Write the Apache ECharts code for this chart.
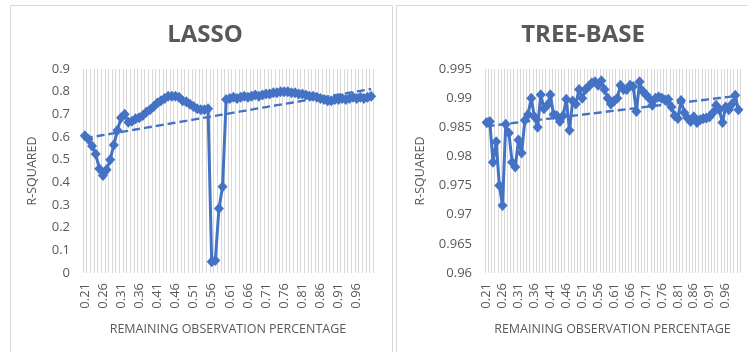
<!DOCTYPE html>
<html>
<head>
<meta charset="utf-8">
<script src="https://cdn.jsdelivr.net/npm/echarts@6/dist/echarts.min.js"></script>
<style>
  html, body { margin: 0; padding: 0; background: #fff; }
  #chart { width: 748px; height: 352px; }
</style>
</head>
<body>
<div id="chart"></div>
<script>
// Remaining observation share, 0.21 … 1.00
const categories = [];
for (let k = 21; k <= 100; k++) categories.push((k / 100).toFixed(2));

// R-squared of the LASSO model at each share
const lassoR2 = [
  0.605, 0.590, 0.560, 0.525, 0.460, 0.430, 0.455, 0.500, 0.565, 0.630,
  0.685, 0.700, 0.665, 0.670, 0.680, 0.685, 0.695, 0.710, 0.720, 0.735,
  0.750, 0.760, 0.770, 0.780, 0.780, 0.780, 0.775, 0.760, 0.755, 0.745,
  0.735, 0.725, 0.720, 0.720, 0.725, 0.050, 0.055, 0.285, 0.380, 0.765,
  0.770, 0.775, 0.770, 0.775, 0.780, 0.775, 0.780, 0.785, 0.780, 0.785,
  0.790, 0.790, 0.795, 0.795, 0.800, 0.800, 0.800, 0.795, 0.795, 0.790,
  0.790, 0.785, 0.780, 0.780, 0.775, 0.770, 0.765, 0.760, 0.760, 0.765,
  0.765, 0.770, 0.765, 0.770, 0.775, 0.770, 0.775, 0.770, 0.775, 0.780
];

// R-squared of the tree-based model at each share
const treeR2 = [
  0.9858, 0.9860, 0.9790, 0.9825, 0.9750, 0.9716, 0.9855, 0.9840, 0.9790, 0.9782,
  0.9828, 0.9806, 0.9862, 0.9872, 0.9900, 0.9868, 0.9850, 0.9906, 0.9882, 0.9888,
  0.9906, 0.9872, 0.9870, 0.9860, 0.9870, 0.9898, 0.9845, 0.9895, 0.9890, 0.9915,
  0.9900, 0.9915, 0.9920, 0.9926, 0.9928, 0.9922, 0.9930, 0.9915, 0.9900, 0.9890,
  0.9895, 0.9900, 0.9922, 0.9915, 0.9915, 0.9922, 0.9920, 0.9877, 0.9928, 0.9912,
  0.9906, 0.9900, 0.9888, 0.9900, 0.9902, 0.9900, 0.9897, 0.9898, 0.9885, 0.9870,
  0.9865, 0.9896, 0.9875, 0.9866, 0.9860, 0.9868, 0.9858, 0.9863, 0.9865, 0.9866,
  0.9868, 0.9875, 0.9888, 0.9880, 0.9858, 0.9885, 0.9880, 0.9890, 0.9905, 0.9880
];

// Y-axis ranges and steps
const lassoAxis = { min: 0, max: 0.9, step: 0.1 };
const treeAxis = { min: 0.96, max: 0.995, step: 0.005 };

const titles = ['LASSO', 'TREE-BASE'];
const xAxisTitle = 'REMAINING OBSERVATION PERCENTAGE';
const yAxisTitle = 'R-SQUARED';

// Ordinary least-squares fit over the category index
function linearTrend(values) {
  const n = values.length;
  let sx = 0, sy = 0, sxx = 0, sxy = 0;
  values.forEach((y, i) => { sx += i; sy += y; sxx += i * i; sxy += i * y; });
  const slope = (n * sxy - sx * sy) / (n * sxx - sx * sx);
  const icpt = (sy - slope * sx) / n;
  return values.map((_, i) => icpt + slope * i);
}

const BLUE = '#4472C4';
const TEXT = '#595959';
const FONT = '"Open Sans", sans-serif';

function xAxisFor(gridIndex) {
  return {
    type: 'category', gridIndex, data: categories, boundaryGap: true,
    axisLine: { show: false }, axisTick: { show: false },
    axisLabel: { interval: 4, rotate: 90, color: TEXT, fontFamily: FONT, fontSize: 13, margin: 10 },
    splitLine: { show: true, interval: 0, lineStyle: { color: '#d9d9d9', width: 1 } },
    name: xAxisTitle, nameLocation: 'middle', nameGap: 50,
    nameTextStyle: { color: TEXT, fontFamily: FONT, fontSize: 12.5 }
  };
}

function yAxisFor(gridIndex, ax, decimals, gap) {
  return {
    type: 'value', gridIndex, min: ax.min, max: ax.max, interval: ax.step,
    axisLine: { show: false }, axisTick: { show: false }, splitLine: { show: false },
    axisLabel: { color: TEXT, fontFamily: FONT, fontSize: 13, margin: 13,
      formatter: v => String(parseFloat(v.toFixed(decimals))) },
    name: yAxisTitle, nameLocation: 'middle', nameGap: gap,
    nameTextStyle: { color: TEXT, fontFamily: FONT, fontSize: 12.5 }
  };
}

function dataSeries(idx, values) {
  return {
    type: 'line', xAxisIndex: idx, yAxisIndex: idx, data: values,
    symbol: 'diamond', symbolSize: [10, 11], showAllSymbol: true,
    lineStyle: { color: BLUE, width: 3 }, itemStyle: { color: BLUE },
    z: 3, silent: true, animation: false
  };
}

function trendSeries(idx, values) {
  return {
    type: 'line', xAxisIndex: idx, yAxisIndex: idx, data: linearTrend(values),
    symbol: 'none', lineStyle: { color: BLUE, width: 2.4, type: [8, 4] },
    z: 4, silent: true, animation: false
  };
}

const chart = echarts.init(document.getElementById('chart'), null, { renderer: 'canvas' });
chart.setOption({
  backgroundColor: '#ffffff',
  animation: false,
  title: [
    { text: titles[0], left: 200, top: 18, textAlign: 'center',
      textStyle: { color: TEXT, fontFamily: FONT, fontSize: 24, fontWeight: 'bold' } },
    { text: titles[1], left: 578, top: 18, textAlign: 'center',
      textStyle: { color: TEXT, fontFamily: FONT, fontSize: 24, fontWeight: 'bold' } }
  ],
  graphic: [
    { type: 'rect', shape: { x: 10.5, y: 5.5, width: 382, height: 400 },
      style: { fill: 'none', stroke: '#d9d9d9', lineWidth: 1 }, silent: true },
    { type: 'rect', shape: { x: 396.5, y: 5.5, width: 400, height: 400 },
      style: { fill: 'none', stroke: '#d9d9d9', lineWidth: 1 }, silent: true }
  ],
  grid: [
    { left: 83, right: 375, top: 69, bottom: 79 },
    { left: 485, right: 8, top: 69, bottom: 79 }
  ],
  xAxis: [xAxisFor(0), xAxisFor(1)],
  yAxis: [yAxisFor(0, lassoAxis, 1, 44), yAxisFor(1, treeAxis, 3, 58)],
  series: [
    dataSeries(0, lassoR2), trendSeries(0, lassoR2),
    dataSeries(1, treeR2), trendSeries(1, treeR2)
  ]
});
</script>
</body>
</html>
